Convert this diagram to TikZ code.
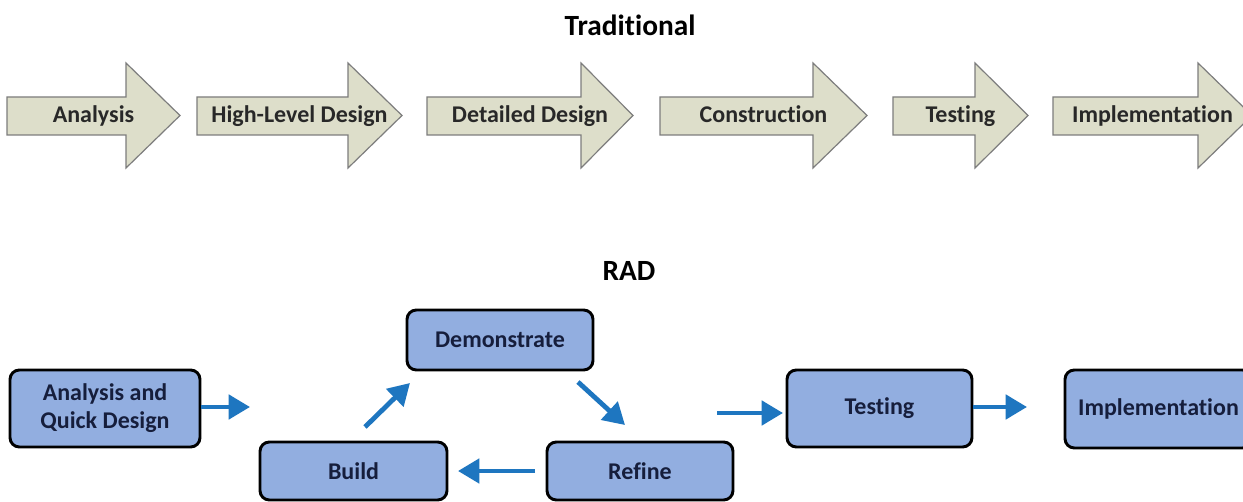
\documentclass[tikz,border=0pt]{standalone}
\usepackage{fontspec}
\setmainfont{Carlito}[Ligatures=NoCommon]
\usetikzlibrary{arrows.meta}
\definecolor{arrowfill}{RGB}{221,222,202}
\definecolor{arrowline}{RGB}{125,125,125}
\definecolor{boxfill}{RGB}{146,174,224}
\definecolor{boxtext}{RGB}{22,30,60}
\definecolor{flowblue}{RGB}{30,118,192}
\definecolor{tradtext}{RGB}{40,40,40}
\tikzset{
  tradshape/.style={draw=arrowline, fill=arrowfill, line width=0.9pt, line join=miter},
  tradlabel/.style={font=\fontsize{18}{20}\selectfont\bfseries, text=tradtext, inner sep=0pt,
    text height=0.66em, text depth=0.2em},
  title/.style={font=\fontsize{22}{24}\selectfont\bfseries, text=black, inner sep=0pt},
  radbox/.style={draw=black, fill=boxfill, line width=2.2pt, rounded corners=7pt,
    inner sep=0pt, align=center, text=boxtext,
    font=\fontsize{18}{21}\selectfont\bfseries},
  flow/.style={draw=flowblue, line width=3.6pt,
    -{Triangle[length=16pt,width=18pt]}, shorten >=0pt}
}
\begin{document}
\begin{tikzpicture}[x=0.75pt,y=-0.75pt]
\useasboundingbox (0,0) rectangle (1243,502);
\clip (0,0) rectangle (1243,502);
\fill[white] (0,0) rectangle (1243,502);

% titles
\node[title] (trad) at (630,25) {Traditional};
\node[title] (rad) at (629,271) {RAD};

% traditional arrows: left, back of head, tip, name, text
\foreach \l/\b/\t/\n/\s in {7/126/180/ta/Analysis,
  197/348/402/tb/High-Level Design,
  427/581/633/tc/Detailed Design,
  660/813/867/td/Construction,
  893/975/1028/te/Testing,
  1053/1198/1252/tf/Implementation}{
  \draw[tradshape] (\l,97) -- (\b,97) -- (\b,63) -- (\t,115.5) -- (\b,168) -- (\b,135) -- (\l,135) -- cycle;
  \node[tradlabel] (\n) at ({(\l+\t)/2},119) {\s};
}

% RAD boxes
\node[radbox, minimum width=142.5pt, minimum height=57.75pt] (aqd) at (105,408.5) {Analysis and\\Quick Design};
\node[radbox, minimum width=140.25pt, minimum height=43.5pt] (build) at (353.5,471) {Build};
\node[radbox, minimum width=139.5pt, minimum height=45pt] (demo) at (500,340) {Demonstrate};
\node[radbox, minimum width=139.5pt, minimum height=43.5pt] (refine) at (640,471) {Refine};
\node[radbox, minimum width=138.75pt, minimum height=57.75pt] (test) at (879.5,408.5) {Testing};
\node[radbox, minimum width=140.25pt, minimum height=58.5pt] (impl) at (1158.5,409) {Implementation};

% free ends of the connectors
\coordinate (c1) at (250,407);
\coordinate (c2a) at (365,427);
\coordinate (c2b) at (410,383);
\coordinate (c3a) at (578,382);
\coordinate (c3b) at (625,425);
\coordinate (c4a) at (535,471);
\coordinate (c4b) at (458,471);
\coordinate (c5a) at (717,413);
\coordinate (c5b) at (783,413);
\coordinate (c6) at (1027,407);

\draw[flow] (aqd.east |- c1) -- (c1);
\draw[flow] (c2a) -- (c2b);
\draw[flow] (c3a) -- (c3b);
\draw[flow] (c4a) -- (c4b);
\draw[flow] (c5a) -- (c5b);
\draw[flow] (test.east |- c6) -- (c6);
\end{tikzpicture}
\end{document}
